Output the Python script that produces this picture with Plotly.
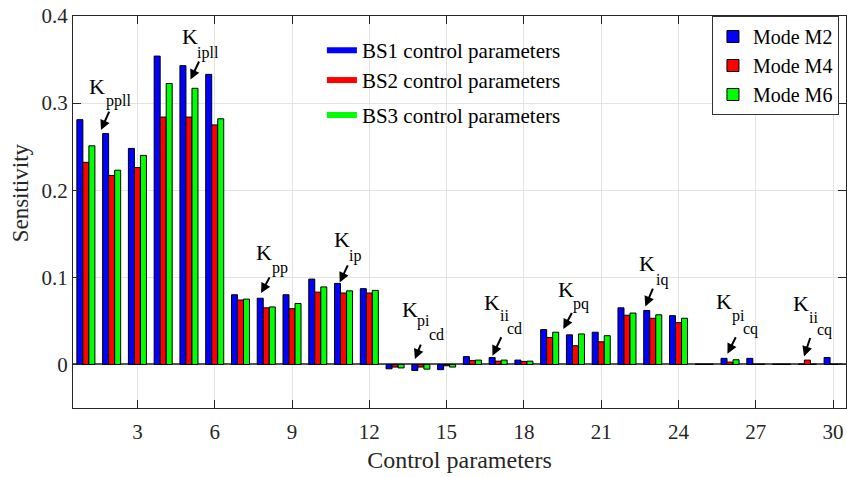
import plotly.graph_objects as go

# Control parameter index (1..30) and sensitivity of each oscillation mode
params = list(range(1, 31))

mode_m2 = [0.281, 0.265, 0.248, 0.354, 0.343, 0.333, 0.080, 0.076, 0.080, 0.098,
           0.093, 0.087, -0.005, -0.007, -0.006, 0.009, 0.008, 0.005, 0.040, 0.034,
           0.037, 0.065, 0.062, 0.056, 0.0005, 0.007, 0.007, 0.0004, 0.0005, 0.008]
mode_m4 = [0.232, 0.217, 0.226, 0.284, 0.284, 0.275, 0.074, 0.065, 0.064, 0.083,
           0.082, 0.082, -0.003, -0.003, -0.0015, 0.0046, 0.0038, 0.0035, 0.031, 0.0215,
           0.026, 0.0565, 0.053, 0.048, 0.0004, 0.0027, 0.0004, 0.0004, 0.005, 0.0004]
mode_m6 = [0.251, 0.223, 0.240, 0.3225, 0.317, 0.282, 0.075, 0.066, 0.070, 0.089,
           0.0845, 0.085, -0.004, -0.0054, -0.003, 0.005, 0.005, 0.0038, 0.037, 0.035,
           0.033, 0.059, 0.057, 0.053, 0.0004, 0.0054, 0.0004, 0.0004, 0.0004, 0.0004]

mode_names = ["Mode M2", "Mode M4", "Mode M6"]
mode_colors = ["#0000ff", "#ff0000", "#00ff00"]

bs_names = ["BS1 control parameters", "BS2 control parameters", "BS3 control parameters"]
bs_colors = ["#0000ff", "#ff0000", "#00ff00"]

x_ticks = list(range(3, 31, 3))
y_ticks = [0, 0.1, 0.2, 0.3, 0.4]

# Parameter labels: symbol, subscript, second-level subscript,
# positions (K, sub, subsub) and arrow (head, tail) in data units
labels = [
    ("K", "ppll", "", (1.45, 0.319), (2.28, 0.302), None, (1.585, 0.269), (1.93, 0.292)),
    ("K", "ipll", "", (5.03, 0.376), (5.73, 0.3575), None, (5.06, 0.327), (5.42, 0.3495)),
    ("K", "pp", "", (7.90, 0.1287), (8.52, 0.111), None, (7.80, 0.0819), (8.16, 0.1017)),
    ("K", "ip", "", (10.95, 0.143), (11.43, 0.1247), None, (10.85, 0.0941), (11.19, 0.1155)),
    ("K", "pi", "cd", (13.58, 0.0627), (14.10, 0.0501), (14.61, 0.034), (13.77, 0.0062), (14.02, 0.0245)),
    ("K", "ii", "cd", (16.76, 0.0713), (17.24, 0.0559), (17.65, 0.041), (16.78, 0.010), (17.15, 0.0329)),
    ("K", "pq", "", (19.63, 0.0863), (20.21, 0.0696), None, (19.53, 0.0406), (19.89, 0.0608)),
    ("K", "iq", "", (22.79, 0.1155), (23.34, 0.0972), None, (22.71, 0.0665), (23.03, 0.0888)),
    ("K", "pi", "cq", (25.77, 0.0719), (26.31, 0.0559), (26.80, 0.041), (25.90, 0.0123), (26.25, 0.0329)),
    ("K", "ii", "cq", (28.74, 0.0696), (29.22, 0.0541), (29.65, 0.0398), (28.87, 0.0092), (29.13, 0.0321)),
]

FONT = "Liberation Serif"
AXIS_COLOR = "#262626"

fig = go.Figure()

for name, color, vals in zip(mode_names, mode_colors, [mode_m2, mode_m4, mode_m6]):
    fig.add_trace(go.Bar(
        x=params, y=vals, name=name, legend="legend2",
        marker=dict(color=color, line=dict(color="black", width=1)),
    ))

# Line-style key for the three buses
for i, (name, color) in enumerate(zip(bs_names, bs_colors)):
    fig.add_trace(go.Scatter(
        x=[None], y=[None], mode="lines", name=name,
        line=dict(color=color, width=6), showlegend=True,
        legend="legend" if i == 0 else f"legend{i + 2}",
    ))

annotations = []
for sym, sub, subsub, kpos, spos, sspos, head, tail in labels:
    annotations.append(dict(x=kpos[0], y=kpos[1], xref="x", yref="y", text=sym,
                            showarrow=False, font=dict(family=FONT, size=22, color="black")))
    annotations.append(dict(x=spos[0], y=spos[1], xref="x", yref="y", text=sub,
                            showarrow=False, font=dict(family=FONT, size=16, color="black")))
    if subsub:
        annotations.append(dict(x=sspos[0], y=sspos[1], xref="x", yref="y", text=subsub,
                                showarrow=False, font=dict(family=FONT, size=16, color="black")))
    annotations.append(dict(x=head[0], y=head[1], xref="x", yref="y",
                            ax=tail[0], ay=tail[1], axref="x", ayref="y", text="",
                            showarrow=True, arrowhead=2, arrowsize=1, arrowwidth=2,
                            arrowcolor="black", standoff=0, startstandoff=0))

annotations.append(dict(x=-0.0686, y=0.55, xref="paper", yref="paper", text="Sensitivity",
                        xanchor="center", yanchor="middle",
                        textangle=-90, showarrow=False,
                        font=dict(family=FONT, size=23, color=AXIS_COLOR)))

bs_legend = dict(xref="paper", yref="paper", xanchor="left", yanchor="top",
                 bgcolor="rgba(0,0,0,0)", borderwidth=0,
                 font=dict(family=FONT, size=21, color="black"))

fig.update_layout(
    width=847, height=477,
    margin=dict(l=73, r=1, t=16, b=69),
    paper_bgcolor="white", plot_bgcolor="white",
    showlegend=True,
    barmode="group", bargap=0.3, bargroupgap=0,
    font=dict(family=FONT, color=AXIS_COLOR),
    annotations=annotations,
    legend=dict(bs_legend, x=0.322, y=0.964),
    legend3=dict(bs_legend, x=0.322, y=0.888),
    legend4=dict(bs_legend, x=0.322, y=0.799),
    legend2=dict(xref="paper", yref="paper", x=0.8266, y=1.0,
                 xanchor="left", yanchor="top",
                 bgcolor="white", bordercolor="#333333", borderwidth=1,
                 font=dict(family=FONT, size=20, color="black")),
    xaxis=dict(
        range=[0.5, 30.5], tickvals=x_ticks, ticktext=[str(v) for v in x_ticks],
        showgrid=True, gridcolor="#e3e3e3", gridwidth=1,
        showline=True, linecolor=AXIS_COLOR, linewidth=1, mirror="ticks",
        ticks="inside", ticklen=8, tickcolor=AXIS_COLOR, ticklabelstandoff=5,
        tickfont=dict(family=FONT, size=21, color=AXIS_COLOR),
        title=dict(text="Control parameters", standoff=7,
                   font=dict(family=FONT, size=24, color=AXIS_COLOR)),
        zeroline=False,
    ),
    yaxis=dict(
        range=[-0.05, 0.4], tickvals=y_ticks, ticktext=["0", "0.1", "0.2", "0.3", "0.4"],
        showgrid=True, gridcolor="#e3e3e3", gridwidth=1,
        showline=True, linecolor=AXIS_COLOR, linewidth=1, mirror="ticks",
        ticks="inside", ticklen=8, tickcolor=AXIS_COLOR,
        tickfont=dict(family=FONT, size=21, color=AXIS_COLOR),
        zeroline=True, zerolinecolor="#555555", zerolinewidth=2,
    ),
)

fig.write_html("out.html")
